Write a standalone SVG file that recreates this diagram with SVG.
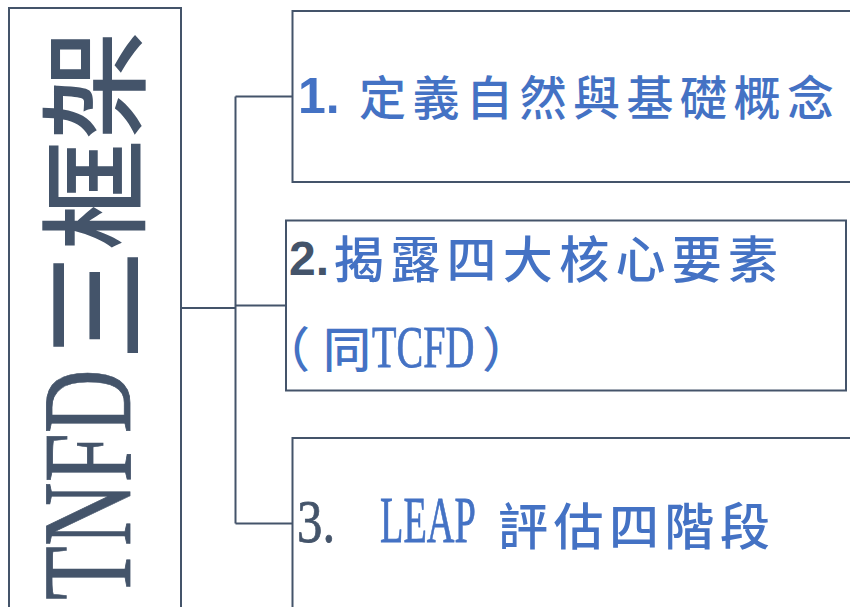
<svg xmlns="http://www.w3.org/2000/svg" width="850" height="607" viewBox="0 0 850 607">
<style>
.box{fill:#ffffff;stroke:#44546a;stroke-width:2}
.conn{fill:none;stroke:#44546a;stroke-width:2}
.cjk{font-family:"Noto Sans CJK TC","Noto Sans CJK SC",sans-serif;font-weight:500}
.num{font-family:"Liberation Sans",Arial,sans-serif;font-weight:bold}
.ser{font-family:"Liberation Serif","Times New Roman",serif;font-weight:normal;stroke-width:0.8}
.blue{fill:#4472c4}
.dark{fill:#44546a}
.ser.blue{stroke:#4472c4}
.ser.dark{stroke:#44546a}
</style>
<rect width="850" height="607" fill="#ffffff"/>
<g id="connectors">
<path class="conn" d="M181 308 H235.5"/>
<path class="conn" d="M235.5 96.5 V523.5"/>
<path class="conn" d="M235.5 96.5 H292.5"/>
<path class="conn" d="M235.5 305.5 H286"/>
<path class="conn" d="M235.5 523.5 H292.5"/>
</g>
<g id="node-tnfd">
<rect class="box" x="9" y="8" width="172" height="630"/>
<text class="ser dark" transform="translate(130,600) rotate(-90) scale(0.69,1)" font-size="128">TNFD</text>
<text class="cjk dark" transform="translate(136,360) rotate(-90)" font-size="110" font-weight="400">三框架</text>
</g>
<g id="node-1">
<rect class="box" x="292.5" y="11" width="600" height="171"/>
<text class="blue"><tspan class="num" x="298" y="113" font-size="50">1.</tspan><tspan class="cjk" x="359" y="115" font-size="47" textLength="475" lengthAdjust="spacing">定義自然與基礎概念</tspan></text>
</g>
<g id="node-2">
<rect class="box" x="286" y="220.5" width="560" height="170"/>
<text class="blue"><tspan class="num dark" x="289" y="275" font-size="48">2.</tspan><tspan class="cjk" x="334" y="278" font-size="50" textLength="444" lengthAdjust="spacing">揭露四大核心要素</tspan></text>
<text class="cjk blue" x="262" y="367" font-size="48">（</text>
<text class="cjk blue" x="323" y="367" font-size="48">同</text>
<text class="ser blue" transform="translate(372,367) scale(0.68,1)" font-size="59">TCFD</text>
<text class="cjk blue" x="482" y="367" font-size="48">）</text>
</g>
<g id="node-3">
<rect class="box" x="292.5" y="438" width="600" height="200"/>
<text class="ser dark" transform="translate(297,542) scale(0.82,1)" font-size="62">3.</text>
<text class="ser blue" transform="translate(380,542) scale(0.58,1)" font-size="66">LEAP</text>
<text class="cjk blue" x="498" y="545" font-size="50" textLength="272" lengthAdjust="spacing">評估四階段</text>
</g>
</svg>
